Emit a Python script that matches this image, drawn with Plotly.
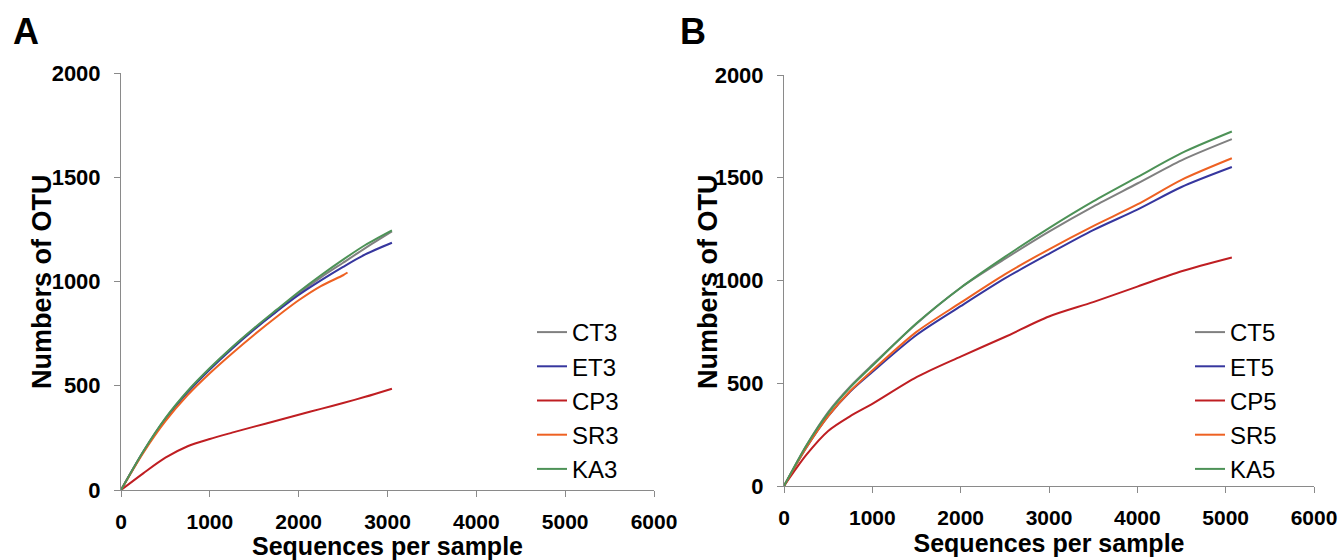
import plotly.graph_objects as go

# ---------------- data ----------------
seq_A = [0, 250, 500, 750, 1000, 1250, 1500, 1750, 2000, 2250, 2500, 2750, 3050]
seq_A_sr = [0, 250, 500, 750, 1000, 1250, 1500, 1750, 2000, 2250, 2500, 2550]
CT3 = [0, 183, 342, 472, 582, 682, 773, 858, 943, 1020, 1090, 1160, 1240]
ET3 = [0, 182, 340, 468, 578, 678, 770, 855, 935, 1005, 1070, 1130, 1186]
CP3 = [0, 80, 155, 210, 245, 275, 304, 332, 361, 389, 417, 447, 486]
SR3 = [0, 178, 330, 455, 560, 655, 745, 830, 910, 978, 1030, 1043]
KA3 = [0, 185, 345, 475, 585, 685, 777, 864, 950, 1030, 1105, 1175, 1245]

seq_B = [0, 250, 500, 750, 1000, 1500, 2000, 2500, 3000, 3500, 4000, 4500, 5070]
CT5 = [0, 195, 360, 485, 590, 790, 965, 1105, 1238, 1360, 1472, 1585, 1688]
ET5 = [0, 185, 340, 460, 555, 735, 875, 1010, 1130, 1245, 1345, 1455, 1552]
CP5 = [0, 150, 268, 340, 400, 530, 630, 725, 825, 895, 970, 1045, 1112]
SR5 = [0, 185, 340, 462, 562, 750, 892, 1030, 1152, 1265, 1370, 1490, 1595]
KA5 = [0, 195, 355, 480, 585, 792, 965, 1115, 1255, 1385, 1503, 1620, 1725]

names_A = ["CT3", "ET3", "CP3", "SR3", "KA3"]
names_B = ["CT5", "ET5", "CP5", "SR5", "KA5"]
colors = ["#808080", "#36369E", "#BF1E22", "#EE6122", "#4D9257"]

x_ticks = [0, 1000, 2000, 3000, 4000, 5000, 6000]
y_ticks = [0, 500, 1000, 1500, 2000]

# ---------------- figure ----------------
fig = go.Figure()
series_A = [(seq_A, CT3), (seq_A, ET3), (seq_A, CP3), (seq_A_sr, SR3), (seq_A, KA3)]
series_B = [(seq_B, CT5), (seq_B, ET5), (seq_B, CP5), (seq_B, SR5), (seq_B, KA5)]

for name, (xs, ys), c in zip(names_A, series_A, colors):
    fig.add_trace(go.Scatter(x=xs, y=ys, name=name, mode="lines",
                             line=dict(color=c, width=2, shape="spline", smoothing=0.8),
                             xaxis="x", yaxis="y", legend="legend"))
for name, (xs, ys), c in zip(names_B, series_B, colors):
    fig.add_trace(go.Scatter(x=xs, y=ys, name=name, mode="lines",
                             line=dict(color=c, width=2, shape="spline", smoothing=0.8),
                             xaxis="x2", yaxis="y2", legend="legend2"))

W, H = 1338, 560
FAM = "Liberation Sans, Arial, sans-serif"
xtickfont = dict(family=FAM, size=21, color="black")
ytickfont = dict(family=FAM, size=22, color="black")
titlefont = dict(family=FAM, size=25, color="black")

def xax(domain, anchor):
    return dict(domain=domain, anchor=anchor, range=[0, 6000], tickvals=x_ticks,
                ticktext=[f"<b>{v}</b>" for v in x_ticks], automargin=False,
                ticklabeloverflow="allow",
                showgrid=False, zeroline=False, showline=True, linecolor="#8a8a8a",
                linewidth=1, ticks="outside", ticklen=6, tickcolor="#8a8a8a",
                tickfont=xtickfont, ticklabelstandoff=7,
                title=dict(text="<b>Sequences per sample</b>", font=titlefont, standoff=5))

def yax(domain, anchor):
    return dict(domain=domain, anchor=anchor, range=[0, 2000], tickvals=y_ticks,
                ticktext=[f"<b>{v}</b>" for v in y_ticks], automargin=False,
                showgrid=False, zeroline=False, showline=True, linecolor="#8a8a8a",
                linewidth=1, ticks="outside", ticklen=6, tickcolor="#8a8a8a",
                tickfont=ytickfont, ticklabelstandoff=9)

legfont = dict(family=FAM, size=24, color="black")
ytitle_font = dict(family=FAM, size=27, color="black")

fig.update_layout(
    width=W, height=H,
    margin=dict(l=0, r=0, t=0, b=0),
    paper_bgcolor="white", plot_bgcolor="white",
    showlegend=True,
    xaxis=xax([121 / W, 654 / W], "y"),
    yaxis=yax([1 - 490 / H, 1 - 73 / H], "x"),
    xaxis2=xax([784 / W, 1314 / W], "y2"),
    yaxis2=yax([1 - 486 / H, 1 - 75 / H], "x2"),
    legend=dict(x=532 / W, y=1 - 310 / H, xanchor="left", yanchor="top",
                font=legfont, bgcolor="rgba(0,0,0,0)", itemwidth=30, tracegroupgap=0),
    legend2=dict(x=1190 / W, y=1 - 310 / H, xanchor="left", yanchor="top",
                 font=legfont, bgcolor="rgba(0,0,0,0)", itemwidth=30, tracegroupgap=0),
    annotations=[
        dict(text="<b>A</b>", x=26 / W, y=1 - 31 / H, xref="paper", yref="paper",
             xanchor="center", yanchor="middle",
             showarrow=False, font=dict(family=FAM, size=36, color="black")),
        dict(text="<b>B</b>", x=693 / W, y=1 - 31 / H, xref="paper", yref="paper",
             xanchor="center", yanchor="middle",
             showarrow=False, font=dict(family=FAM, size=36, color="black")),
        dict(text="<b>Numbers of OTU</b>", x=42 / W, y=1 - 282 / H, xref="paper", yref="paper",
             xanchor="center", yanchor="middle", textangle=-90,
             showarrow=False, font=ytitle_font),
        dict(text="<b>Numbers of OTU</b>", x=708 / W, y=1 - 282 / H, xref="paper", yref="paper",
             xanchor="center", yanchor="middle", textangle=-90,
             showarrow=False, font=ytitle_font),
    ],
)

fig.write_html("out.html", config={"displayModeBar": False},
               post_script="document.body.style.margin='0';document.body.style.overflow='hidden';")
